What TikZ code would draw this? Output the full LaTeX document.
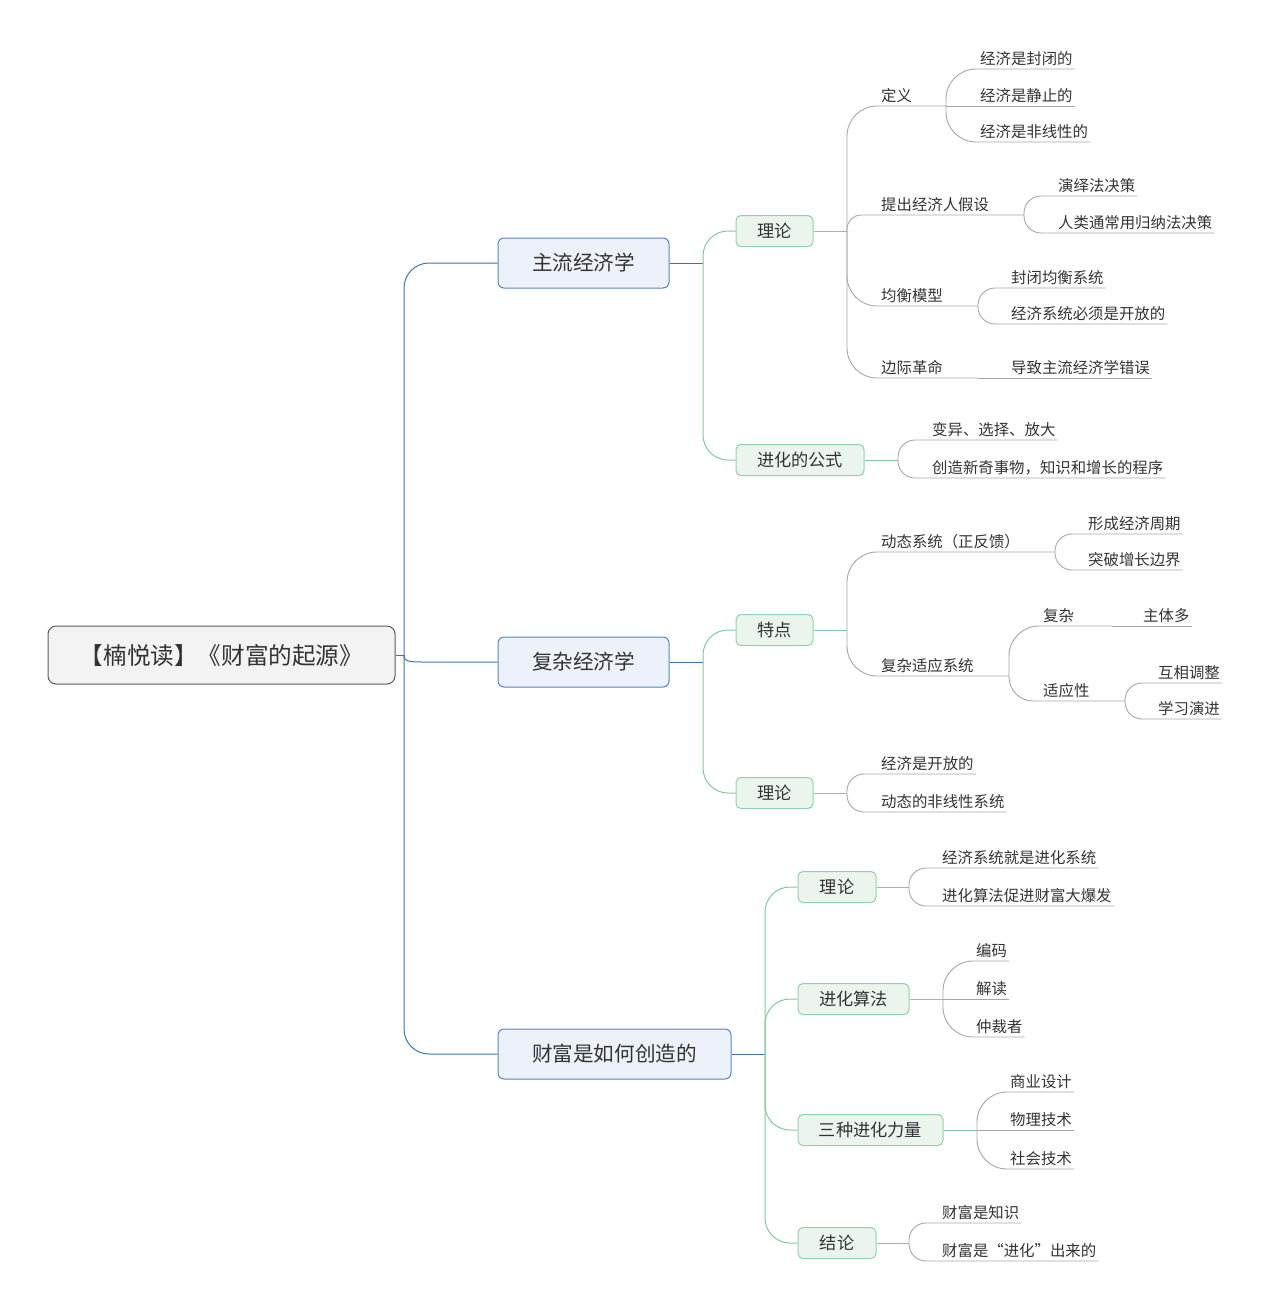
\documentclass[tikz,border=0pt]{standalone}
\usepackage{fontspec}
\setmainfont{Noto Sans CJK SC}
\definecolor{txt}{HTML}{333333}
\definecolor{rootb}{HTML}{5A5A5A}
\definecolor{rootf}{HTML}{F3F3F3}
\definecolor{blueb}{HTML}{5585C5}
\definecolor{bluef}{HTML}{EDF2FA}
\definecolor{bluel}{HTML}{3D73B5}
\definecolor{greenb}{HTML}{8FD4A9}
\definecolor{greenf}{HTML}{EBF5EE}
\definecolor{greenl}{HTML}{82C99B}
\definecolor{grayl}{HTML}{A6A6A6}
\begin{document}
\begin{tikzpicture}[x=1pt,y=-1pt,
 every node/.style={text=txt},
 rootbox/.style={draw=rootb, fill=rootf, line width=1pt, rounded corners=8pt, minimum height=58pt, font=\fontsize{23.6}{27}\selectfont, inner sep=0pt},
 bluebox/.style={draw=blueb, fill=bluef, line width=1pt, rounded corners=6pt, minimum height=50pt, font=\fontsize{20.6}{24}\selectfont, inner sep=0pt},
 greenbox/.style={draw=greenb, fill=greenf, line width=1pt, rounded corners=5pt, minimum height=31pt, font=\fontsize{17.2}{20}\selectfont, inner sep=0pt},
 leaf/.style={anchor=south west, inner sep=0pt, text depth=4.2pt, font=\fontsize{15.4}{18}\selectfont},
 bline/.style={draw=bluel, line width=1pt},
 gline/.style={draw=greenl, line width=1pt},
 kline/.style={draw=grayl, line width=0.9pt}]
\useasboundingbox (0,0) rectangle (1269,1310);

% ---------- boxes ----------
\node[rootbox, minimum width=347pt] (root) at (221.5,655) {【楠悦读】《财富的起源》};
\node[bluebox, minimum width=171pt] (l1a) at (583.5,263) {主流经济学};
\node[bluebox, minimum width=171pt] (l1b) at (583.5,662) {复杂经济学};
\node[bluebox, minimum width=233pt] (l1c) at (614.5,1054) {财富是如何创造的};

\node[greenbox, minimum width=77pt] (t1) at (774.5,231) {理论};
\node[greenbox, minimum width=128pt] (t2) at (800,460) {进化的公式};
\node[greenbox, minimum width=77pt] (t3) at (774.5,630) {特点};
\node[greenbox, minimum width=77pt] (t4) at (774.5,793) {理论};
\node[greenbox, minimum width=78pt] (t5) at (837,887) {理论};
\node[greenbox, minimum width=111pt] (t6) at (853.5,999) {进化算法};
\node[greenbox, minimum width=145pt] (t7) at (870.5,1130) {三种进化力量};
\node[greenbox, minimum width=78pt] (t8) at (837,1243) {结论};

% ---------- leaf texts ----------
\node[leaf] (d1) at (881,106) {定义};
\node[leaf] (d2) at (881,215) {提出经济人假设};
\node[leaf] (d3) at (881,306) {均衡模型};
\node[leaf] (d4) at (881,378) {边际革命};
\node[leaf] (e1) at (980,69) {经济是封闭的};
\node[leaf] (e2) at (980,106) {经济是静止的};
\node[leaf] (e3) at (980,142) {经济是非线性的};
\node[leaf] (e4) at (1058,196) {演绎法决策};
\node[leaf] (e5) at (1058,233) {人类通常用归纳法决策};
\node[leaf] (e6) at (1011,288) {封闭均衡系统};
\node[leaf] (e7) at (1011,324) {经济系统必须是开放的};
\node[leaf] (e8) at (1011,378) {导致主流经济学错误};
\node[leaf] (f1) at (932,440) {变异、选择、放大};
\node[leaf] (f2) at (932,478) {创造新奇事物，知识和增长的程序};
\node[leaf] (g1) at (881,552) {动态系统（正反馈）};
\node[leaf] (g2) at (881,676) {复杂适应系统};
\node[leaf] (h1) at (1088,534) {形成经济周期};
\node[leaf] (h2) at (1088,570) {突破增长边界};
\node[leaf] (h3) at (1043,626) {复杂};
\node[leaf] (h4) at (1043,701) {适应性};
\node[leaf] (i1) at (1143,626) {主体多};
\node[leaf] (i2) at (1158,683) {互相调整};
\node[leaf] (i3) at (1158,719) {学习演进};
\node[leaf] (g3) at (881,774) {经济是开放的};
\node[leaf] (g4) at (881,812) {动态的非线性系统};
\node[leaf] (k1) at (942,868) {经济系统就是进化系统};
\node[leaf] (k2) at (942,906) {进化算法促进财富大爆发};
\node[leaf] (k3) at (976,961) {编码};
\node[leaf] (k4) at (976,999) {解读};
\node[leaf] (k5) at (976,1037) {仲裁者};
\node[leaf] (k6) at (1010,1092) {商业设计};
\node[leaf] (k7) at (1010,1130) {物理技术};
\node[leaf] (k8) at (1010,1169) {社会技术};
\node[leaf] (k9) at (942,1223) {财富是知识};
\node[leaf] (k10) at (942,1261) {财富是“进化”出来的};

% ---------- junctions ----------
\coordinate (B) at (404,655);
\coordinate (G1) at (703,263);
\coordinate (G2) at (703,662);
\coordinate (G3) at (765,1054);
\coordinate (J1) at (847,231);
\coordinate (J2) at (898,460);
\coordinate (J3) at (847,630);
\coordinate (J4) at (847,793);
\coordinate (J5) at (909,887);
\coordinate (J6) at (943,999);
\coordinate (J7) at (977,1130);
\coordinate (J8) at (909,1243);
\coordinate (sd1) at (946,106);
\coordinate (sd2) at (1024,215);
\coordinate (sd3) at (978,306);
\coordinate (sd4) at (978,378);
\coordinate (sd5) at (1055,552);
\coordinate (sd6) at (1009,676);
\coordinate (sd7) at (1112,626);
\coordinate (sd8) at (1125,701);

% ---------- root level ----------
\draw[bline] (root.east) -- (B);
\draw[bline, rounded corners=25pt] (B) |- (l1a.west);
\draw[bline, rounded corners=25pt] (B) |- (l1c.west);
\draw[bline] (B) .. controls (404,662) and (410,662) .. (426,662) -- (l1b.west);

% ---------- level 1 -> level 2 ----------
\draw[bline] (l1a.east) -- (G1);
\draw[gline, rounded corners=25pt] (G1) |- (t1.west);
\draw[gline, rounded corners=25pt] (G1) |- (t2.west);
\draw[bline] (l1b.east) -- (G2);
\draw[gline, rounded corners=25pt] (G2) |- (t3.west);
\draw[gline, rounded corners=25pt] (G2) |- (t4.west);
\draw[bline] (l1c.east) -- (G3);
\draw[gline, rounded corners=25pt] (G3) |- (t5.west);
\draw[gline, rounded corners=25pt] (G3) |- (t6.west);
\draw[gline, rounded corners=25pt] (G3) |- (t7.west);
\draw[gline, rounded corners=25pt] (G3) |- (t8.west);

% ---------- 理论 (主流) ----------
\draw[gline] (t1.east) -- (J1);
\draw[kline, rounded corners=30pt] (J1) |- (sd1);
\draw[kline, rounded corners=14pt] (J1) |- (sd2);
\draw[kline, rounded corners=30pt] (J1) |- (sd3);
\draw[kline, rounded corners=30pt] (J1) |- (sd4);
\draw[kline, rounded corners=30pt] (sd1) |- ([xshift=2pt]e1.south east);
\draw[kline] (sd1) -- ([xshift=2pt]e2.south east);
\draw[kline, rounded corners=30pt] (sd1) |- ([xshift=2pt]e3.south east);
\draw[kline, rounded corners=17pt] (sd2) |- ([xshift=2pt]e4.south east);
\draw[kline, rounded corners=17pt] (sd2) |- ([xshift=2pt]e5.south east);
\draw[kline, rounded corners=17pt] (sd3) |- ([xshift=2pt]e6.south east);
\draw[kline, rounded corners=17pt] (sd3) |- ([xshift=2pt]e7.south east);
\draw[kline] (sd4) -- ([xshift=2pt]e8.south east);

% ---------- 进化的公式 ----------
\draw[gline] (t2.east) -- (J2);
\draw[kline, rounded corners=17pt] (J2) |- ([xshift=2pt]f1.south east);
\draw[kline, rounded corners=17pt] (J2) |- ([xshift=2pt]f2.south east);

% ---------- 特点 ----------
\draw[gline] (t3.east) -- (J3);
\draw[kline, rounded corners=30pt] (J3) |- (sd5);
\draw[kline, rounded corners=30pt] (J3) |- (sd6);
\draw[kline, rounded corners=17pt] (sd5) |- ([xshift=2pt]h1.south east);
\draw[kline, rounded corners=17pt] (sd5) |- ([xshift=2pt]h2.south east);
\draw[kline, rounded corners=30pt] (sd6) |- (sd7);
\draw[kline, rounded corners=24pt] (sd6) |- (sd8);
\draw[kline] (sd7) -- ([xshift=2pt]i1.south east);
\draw[kline, rounded corners=17pt] (sd8) |- ([xshift=2pt]i2.south east);
\draw[kline, rounded corners=17pt] (sd8) |- ([xshift=2pt]i3.south east);

% ---------- 理论 (复杂) ----------
\draw[gline] (t4.east) -- (J4);
\draw[kline, rounded corners=17pt] (J4) |- ([xshift=2pt]g3.south east);
\draw[kline, rounded corners=17pt] (J4) |- ([xshift=2pt]g4.south east);

% ---------- 理论 (财富) ----------
\draw[gline] (t5.east) -- (J5);
\draw[kline, rounded corners=17pt] (J5) |- ([xshift=2pt]k1.south east);
\draw[kline, rounded corners=17pt] (J5) |- ([xshift=2pt]k2.south east);

% ---------- 进化算法 ----------
\draw[gline] (t6.east) -- (J6);
\draw[kline, rounded corners=30pt] (J6) |- ([xshift=2pt]k3.south east);
\draw[kline] (J6) -- ([xshift=2pt]k4.south east);
\draw[kline, rounded corners=30pt] (J6) |- ([xshift=2pt]k5.south east);

% ---------- 三种进化力量 ----------
\draw[gline] (t7.east) -- (J7);
\draw[kline, rounded corners=30pt] (J7) |- ([xshift=2pt]k6.south east);
\draw[kline] (J7) -- ([xshift=2pt]k7.south east);
\draw[kline, rounded corners=30pt] (J7) |- ([xshift=2pt]k8.south east);

% ---------- 结论 ----------
\draw[gline] (t8.east) -- (J8);
\draw[kline, rounded corners=17pt] (J8) |- ([xshift=2pt]k9.south east);
\draw[kline, rounded corners=17pt] (J8) |- ([xshift=2pt]k10.south east);
\end{tikzpicture}
\end{document}
